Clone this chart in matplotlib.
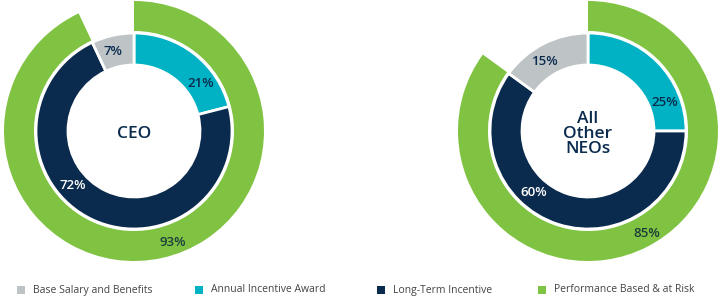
import matplotlib.pyplot as plt
import numpy as np

# ---------------------------------------------------------
# DATA
# ---------------------------------------------------------
groups = ["CEO", "All\nOther\nNEOs"]
categories = ["Base Salary and Benefits", "Annual Incentive Award",
              "Long-Term Incentive", "Performance Based & at Risk"]

# inner ring, clockwise from 12 o'clock: annual, long-term, base
annual = [21, 25]
long_term = [72, 60]
base = [7, 15]
# outer ring
at_risk = [93, 85]

# ---------------------------------------------------------
# STYLE
# ---------------------------------------------------------
GRAY = "#BEC4C6"
CYAN = "#00B2C3"
NAVY = "#0B2B4E"
GREEN = "#80C342"
TEXT = "#0B2B4E"
plt.rcParams['font.family'] = ['Open Sans', 'DejaVu Sans']

centers = [(134, 166), (588, 166)]   # pixels, y from bottom
r_outer, w_outer = 130, 30
r_inner, w_inner = 98, 32
# where along each wedge the label sits (fraction of wedge)
lab_frac_inner = [[0.72, 0.59, 0.40], [0.77, 0.61, 0.40]]
lab_frac_outer = [0.48, 0.49]
legend_x = [21, 199, 381, 542]
legend_y = 7

fig = plt.figure(figsize=(7.2, 2.97), dpi=100)
ax = fig.add_axes([0, 0, 1, 1])

for i, (cx, cy) in enumerate(centers):
    # outer ring
    ax.pie([at_risk[i], 100 - at_risk[i]], colors=[GREEN, "none"],
           radius=r_outer, center=(cx, cy), startangle=90, counterclock=False,
           wedgeprops=dict(width=w_outer, edgecolor="none"), frame=True)
    # inner ring
    vals = [annual[i], long_term[i], base[i]]
    ax.pie(vals, colors=[CYAN, NAVY, GRAY],
           radius=r_inner, center=(cx, cy), startangle=90, counterclock=False,
           wedgeprops=dict(width=w_inner, edgecolor="white", linewidth=2),
           frame=True)

    # inner labels
    start = 0
    rmid = r_inner - w_inner / 2
    for v, f, col in zip(vals, lab_frac_inner[i], [TEXT, "white", TEXT]):
        ang = np.deg2rad(90 - (start + v * f) * 3.6)
        ax.text(cx + rmid * np.cos(ang), cy + rmid * np.sin(ang), f"{v}%",
                ha="center", va="center", fontsize=9.5, color=col,
                fontweight="semibold")
        start += v
    # outer label
    ang = np.deg2rad(90 - at_risk[i] * lab_frac_outer[i] * 3.6)
    rmid = r_outer - w_outer / 2 + 3
    ax.text(cx + rmid * np.cos(ang), cy + rmid * np.sin(ang), f"{at_risk[i]}%",
            ha="center", va="center", fontsize=9.5, color="#1B3D3A",
            fontweight="semibold")

    ax.text(cx, cy - 3, groups[i], ha="center", va="center", fontsize=12.5,
            color=TEXT, linespacing=0.95, fontweight="semibold")

# legend
for x, c, lab in zip(legend_x, [GRAY, CYAN, NAVY, GREEN], categories):
    ax.scatter([x], [legend_y], marker="s", s=34, color=c, linewidths=0)
    ax.text(x + 12, legend_y, lab, ha="left", va="center", fontsize=7.5,
            color="#444444")

ax.set_xlim(0, 720)
ax.set_ylim(0, 297)
ax.set_aspect('equal')
ax.axis('off')

fig.savefig("out.png", dpi=100)
